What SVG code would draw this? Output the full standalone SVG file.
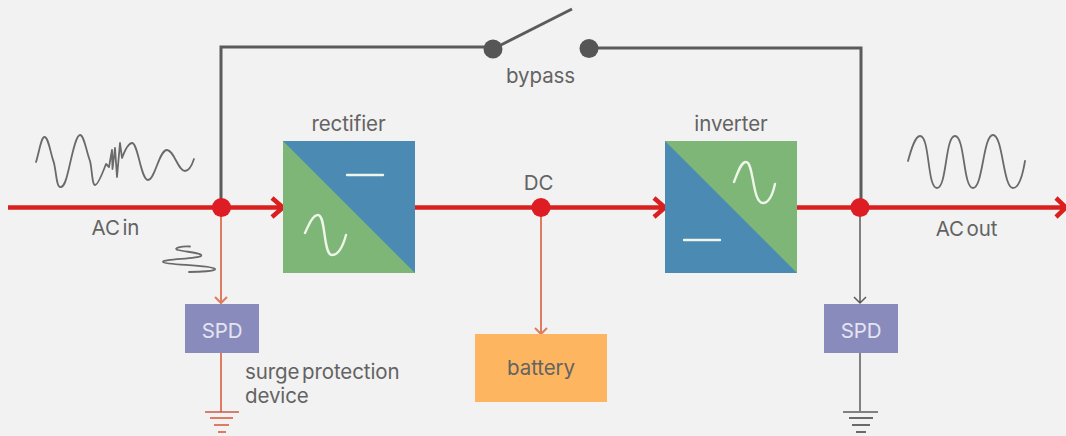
<svg xmlns="http://www.w3.org/2000/svg" width="1066" height="436" viewBox="0 0 1066 436">
<style>
text{font-family:"Inter","Liberation Sans",sans-serif;font-size:20.500px;fill:#636363;letter-spacing:-0.1px;word-spacing:-3px}
.c{text-anchor:middle}
.w{fill:#e4e4f2}
.red{fill:none;stroke:#d9201f;stroke-width:4.500}
.gray{fill:none;stroke:#5b5b5b;stroke-width:3}
.thin{fill:none;stroke:#5b5b5b;stroke-width:1.500}
.thick{fill:none;stroke:#6a6a6a;stroke-width:2}
.sal{fill:none;stroke:#df7b60;stroke-width:2}
.wave{fill:none;stroke:#6a6a6a;stroke-width:1.800;stroke-linecap:round;stroke-linejoin:round}
.sym{fill:none;stroke:#eef6e8;stroke-width:2.400;stroke-linecap:round}
.dot{fill:#de1c24}
.sw{fill:#565656}
</style>
<rect width="1066" height="436" fill="#f2f2f2"/>
<g id="connectors">
<path class="gray" d="M221 207V47H493"/>
<path class="gray" d="M493 49L572 9"/>
<path class="gray" d="M589 48H861V207"/>
<path class="red" d="M8 207.500H282M272 198L283 207.500L272 217"/>
<path class="red" d="M415 207.500H664M654 198L665 207.500L654 217"/>
<path class="red" d="M797 207.500H1064M1056 198L1066 207.500L1056 217"/>
<path class="sal" d="M221 208V303M215 297L221 303L227 297"/>
<path class="sal" d="M221 353V412"/>
<path class="sal" d="M541 208V334M535 328L541 334L547 328"/>
<path class="thin" d="M860 208V303M854 297L860 303L866 297"/>
<path class="thin" d="M860 353V411"/>
<path d="M205 412H239" fill="none" stroke="#c9584a" stroke-width="1.500"/>
<path d="M210 418H233M214 425H229M218 432H226" fill="none" stroke="#df7b60" stroke-width="2"/>
<path d="M843 412H878" class="thin"/>
<path d="M849 418H873M852 425H870M856 432H866" class="thick"/>
</g>
<g id="switch-left"><circle class="sw" cx="493" cy="49" r="9.500"/></g>
<g id="switch-right"><circle class="sw" cx="589" cy="48.500" r="9.500"/></g>
<g id="bypass-label"><text class="c" x="540.500" y="83">bypass</text></g>
<g id="node-in"><circle class="dot" cx="221.500" cy="207.500" r="9.500"/></g>
<g id="node-dc"><circle class="dot" cx="541" cy="207.500" r="9.500"/></g>
<g id="node-out"><circle class="dot" cx="860" cy="207.500" r="9.500"/></g>
<g id="ac-in">
<path class="wave" d="M36 162C39 153 41 137 44.500 137C48 137 50 150 53 160C56 166 56 187 60 187C65 188 67 176 69 168C72 155 76 135 80 135C84 135 86 150 90 161C92 168 92 185 95 185C98 185 103 172 106 164L109 167L112 150L112.500 169L115 148L117 177L120 143L122 158C125 150 128 143 132 143C138 143 141 180 148 180C155 180 159 150 167 150C174 150 178 171 185 171C189 171 192 165 194 159"/>
<text class="c" x="115.500" y="235">AC in</text>
<path class="wave" d="M190 246.500C182 246 172 248 178 250C186 252 204 253 201 256C197 259 162 259 163 262C164 265 212 265 215 269C216 271 200 272 189 272"/>
</g>
<g id="rectifier">
<rect x="283" y="141" width="132" height="132" fill="#7db677"/>
<path d="M283 141H415V273Z" fill="#4a8ab3"/>
<path class="sym" d="M347 175H383"/>
<path class="sym" d="M305 233C309 224 313 215 318 215C326 215 323 255 332 255C338 255 343 246 346 235"/>
<text class="c" x="348.500" y="131">rectifier</text>
</g>
<g id="dc-label"><text class="c" x="538.500" y="190">DC</text></g>
<g id="inverter">
<rect x="665" y="141" width="132" height="132" fill="#4a8ab3"/>
<path d="M665 141H797V273Z" fill="#7db677"/>
<path class="sym" d="M684 240H720"/>
<path class="sym" d="M734 182C738 172 741 162 746 162C754 162 752 203 763 203C769 203 773 193 775 184"/>
<text class="c" x="731" y="131">inverter</text>
</g>
<g id="ac-out">
<path class="wave" d="M908 161C911 150 915 136 920 136C930 136 927 188 937 188C947 188 945 136 955 136C965 136 963 188 973 188C983 188 983 135 993 135C1003 135 1003 188 1013 188C1019 188 1023 173 1025 161"/>
<text class="c" x="966.500" y="236">AC out</text>
</g>
<g id="spd-left">
<rect x="185" y="304" width="74" height="49" fill="#8a8bbd"/>
<text class="c w" x="222" y="338">SPD</text>
<text x="245" y="379">surge protection</text>
<text x="245" y="403">device</text>
</g>
<g id="battery">
<rect x="475" y="334" width="132" height="68" fill="#fdb55f"/>
<text class="c" x="541" y="375">battery</text>
</g>
<g id="spd-right">
<rect x="824" y="304" width="74" height="49" fill="#8a8bbd"/>
<text class="c w" x="861" y="338">SPD</text>
</g>
</svg>
